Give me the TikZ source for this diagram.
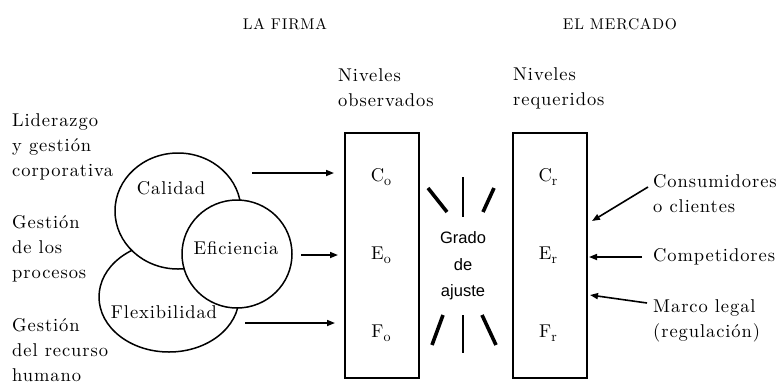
\documentclass[tikz,border=0pt]{standalone}
\usepackage{fontspec}
\setmainfont{lmroman10-regular.otf}
\newfontfamily\gradofont{Liberation Sans}
\usetikzlibrary{arrows.meta,positioning}

\newcommand{\lvl}[2]{#1\raisebox{-4pt}{\fontsize{14}{14}\selectfont #2}}

\begin{document}
\begin{tikzpicture}[x=1pt, y=-1pt,
  txt/.style={font=\fontsize{18.5}{25}\selectfont\addfontfeatures{LetterSpace=5}, inner sep=0pt},
  title/.style={font=\fontsize{15.5}{17}\selectfont\addfontfeatures{LetterSpace=5}, inner sep=0pt},
  sanstxt/.style={font=\fontsize{16.5}{26.5}\selectfont\gradofont, inner sep=0pt},
  levelbox/.style={draw, line width=1.8pt, minimum width=74pt, minimum height=245pt, inner sep=0pt},
  ring/.style={draw, line width=1.5pt, fill=white},
  arr/.style={-{Triangle[length=8pt, width=6pt]}, line width=1.6pt},
  ray/.style={line width=3.6pt},
  thinray/.style={line width=1.4pt}]
  \useasboundingbox (0,0) rectangle (783,386);

  % Dimensions (pixels of the original figure)
  \def\by{255.5}     % box centre y
  \def\yc{177}       % row C
  \def\ye{255}       % row E
  \def\yf{333}       % row F

  % Titles
  \node[title] (firma) at (285,24) {LA FIRMA};
  \node[title] (mercado) at (620,24) {EL MERCADO};

  % Left hand factors
  \node[txt, anchor=west, align=left] (lider) at (12,147) {Liderazgo\\y gestión\\corporativa};
  \node[txt, anchor=west, align=left] (procesos) at (12,249) {Gestión\\de los\\procesos};
  \node[txt, anchor=west, align=left] (humano) at (12,350) {Gestión\\del recurso\\humano};

  % The three overlapping rings (back to front)
  \draw[ring] (169,297) ellipse [x radius=70, y radius=55];
  \draw[ring] (178,211) ellipse [x radius=63, y radius=58];
  \draw[ring] (237,254) ellipse [x radius=55, y radius=54];
  \node[txt] (cal) at (171,188) {Calidad};
  \node[txt] (efi) at (236,248) {Eficiencia};
  \node[txt] (flex) at (164,312) {Flexibilidad};

  % Level boxes
  \node[levelbox] (obs) at (382,\by) {};
  \node[levelbox] (req) at (550,\by) {};
  \node[txt, anchor=west, align=left] (obslbl) at (338,88) {Niveles\\observados};
  \node[txt, anchor=west, align=left] (reqlbl) at (513,88) {Niveles\\requeridos};

  \node[txt] (co) at (381,\yc) {\lvl{C}{o}};
  \node[txt] (eo) at (381,\ye) {\lvl{E}{o}};
  \node[txt] (fo) at (381,\yf) {\lvl{F}{o}};
  \node[txt] (cr) at (548,\yc) {\lvl{C}{r}};
  \node[txt] (er) at (548,\ye) {\lvl{E}{r}};
  \node[txt] (fr) at (548,\yf) {\lvl{F}{r}};

  % Arrows into the observed levels
  \coordinate (calout) at (252,173);
  \coordinate (calin) at (334,173);
  \coordinate (efiout) at (301,255);
  \coordinate (efiin) at (338,255);
  \coordinate (flexout) at (245,323);
  \coordinate (flexin) at (335,323);
  \draw[arr] (calout) -- (calin);
  \draw[arr] (efiout) -- (efiin);
  \draw[arr] (flexout) -- (flexin);

  % Grado de ajuste with its rays
  \node[sanstxt, align=center] (ajuste) at (463,266) {Grado\\de\\ajuste};
  \foreach \xa/\ya/\xb/\yb in {428/188/447/212, 494/188/483/212,
                               443/315/432/345, 482/315/496/345} {
    \draw[ray] (\xa,\ya) -- (\xb,\yb);
  }
  \foreach \ya/\yb in {177/217, 315/353} {
    \draw[thinray] (463,\ya) -- (463,\yb);
  }

  % Market forces
  \node[txt, anchor=west, align=left] (consum) at (653,194) {Consumidores\\o clientes};
  \node[txt, anchor=west] (compet) at (653,257) {Competidores};
  \node[txt, anchor=west, align=left] (marco) at (653,321) {Marco legal\\(regulación)};
  \coordinate (consout) at (648,187);
  \coordinate (consin) at (592,221);
  \coordinate (compout) at (642,257);
  \coordinate (compin) at (589,257);
  \coordinate (marcout) at (647,303);
  \coordinate (marcin) at (590,295);
  \draw[arr] (consout) -- (consin);
  \draw[arr] (compout) -- (compin);
  \draw[arr] (marcout) -- (marcin);
\end{tikzpicture}
\end{document}
